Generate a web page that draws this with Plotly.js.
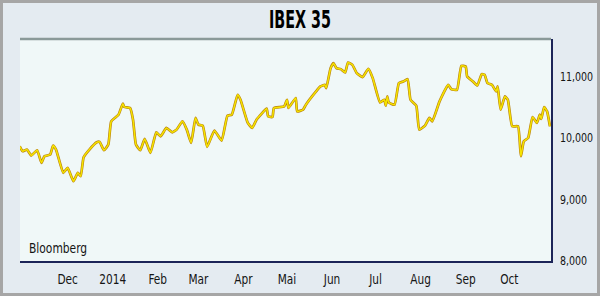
<!DOCTYPE html>
<html>
<head>
<meta charset="utf-8">
<script src="https://cdn.plot.ly/plotly-3.0.1.min.js"></script>
<style>html,body{margin:0;padding:0;background:#e4ebf1;}#chart{width:600px;height:296px;}</style>
</head>
<body>
<div id="chart"></div>
<script>
// IBEX 35 daily closes
const dates = ["2013-11-12","2013-11-14","2013-11-17","2013-11-20","2013-11-24","2013-11-27","2013-11-29","2013-12-03","2013-12-05","2013-12-07",
"2013-12-12","2013-12-15","2013-12-19","2013-12-22","2013-12-24","2013-12-26","2013-12-30","2014-01-04","2014-01-06","2014-01-09",
"2014-01-12","2014-01-14","2014-01-19","2014-01-22","2014-01-23","2014-01-27","2014-01-29","2014-01-31","2014-02-03","2014-02-06",
"2014-02-10","2014-02-14","2014-02-17","2014-02-21","2014-02-25","2014-02-28","2014-03-04","2014-03-07","2014-03-10","2014-03-13",
"2014-03-15","2014-03-18","2014-03-21","2014-03-26","2014-03-31","2014-04-04","2014-04-07","2014-04-11","2014-04-13","2014-04-18",
"2014-04-21","2014-04-24","2014-05-01","2014-05-02","2014-05-05","2014-05-06","2014-05-13","2014-05-15","2014-05-16","2014-05-21",
"2014-05-22","2014-05-26","2014-05-28","2014-06-04","2014-06-07","2014-06-10","2014-06-11","2014-06-14","2014-06-16","2014-06-18",
"2014-06-21","2014-06-24","2014-06-26","2014-06-29","2014-07-02","2014-07-06","2014-07-10","2014-07-13","2014-07-18","2014-07-21",
"2014-07-22","2014-07-23","2014-07-24","2014-07-28","2014-07-31","2014-08-03","2014-08-06","2014-08-08","2014-08-12","2014-08-14",
"2014-08-18","2014-08-21","2014-08-23","2014-08-28","2014-09-03","2014-09-05","2014-09-09","2014-09-12","2014-09-15","2014-09-16",
"2014-09-20","2014-09-23","2014-09-26","2014-09-28","2014-09-30","2014-10-03","2014-10-06","2014-10-07","2014-10-09","2014-10-12",
"2014-10-14","2014-10-17","2014-10-21","2014-10-23","2014-10-25","2014-10-28","2014-10-31","2014-11-03","2014-11-05","2014-11-06",
"2014-11-08","2014-11-10","2014-11-12"];
const values = [9866,9785,9812,9715,9801,9597,9703,9731,9877,9812,
9434,9515,9298,9434,9379,9687,9812,9930,9937,9801,
9893,10271,10379,10558,10504,10488,10298,9893,9801,9985,
9759,10092,10028,10164,10092,10136,10271,10136,9921,10326,
10217,10201,9856,10120,9958,10363,10379,10703,10622,10245,
10164,10298,10477,10352,10342,10488,10514,10622,10488,10650,
10433,10460,10541,10757,10838,10865,10812,11136,11217,11136,
11120,11065,11227,11190,11055,10990,11125,10974,10579,10622,
10525,10676,10579,10541,10893,10919,10958,10622,10525,10136,
10201,10326,10271,10595,10865,10796,10784,11173,11162,11000,
10919,10854,11039,11028,10893,10865,10757,10838,10460,10676,
10622,10190,10190,9703,9947,10002,10342,10245,10379,10310,
10504,10433,10190];

const tickDates = ["2013-12-15","2014-01-15","2014-02-15","2014-03-15","2014-04-15","2014-05-15","2014-06-15","2014-07-15","2014-08-15","2014-09-15","2014-10-15"];
const tickLabels = ["Dec","2014","Feb","Mar","Apr","Mai","Jun","Jul","Aug","Sep","Oct"];
const yTickVals = [8000, 9000, 10000, 11000];
const yTickLabels = ["8,000","9,000","10,000","11,000"];

const FONT = "'DejaVu Sans Condensed', 'Liberation Sans Narrow', sans-serif";

const traces = [
  {x: dates, y: values, type: "scatter", mode: "lines", hoverinfo: "skip",
   line: {color: "#b8800e", width: 2.7, shape: "spline", smoothing: 0.4}},
  {x: dates, y: values, type: "scatter", mode: "lines", hoverinfo: "skip",
   line: {color: "#f6e400", width: 1.5, shape: "spline", smoothing: 0.4}}
];

const L = 20, R = 49, T = 39, B = 35, W = 600, H = 296;
const pw = W - L - R, ph = H - T - B;
const px = v => (v - L) / pw;
const py = v => (H - B - v) / ph;

const layout = {
  width: W, height: H,
  margin: {l: L, r: R, t: T, b: B, pad: 0},
  paper_bgcolor: "#e4ebf1",
  plot_bgcolor: "#f0f8f8",
  showlegend: false,
  title: {text: "<b>IBEX 35</b>", x: 0.5, xanchor: "center", y: 1 - 20 / H, yanchor: "middle",
          font: {family: FONT, size: 24, color: "#000"}},
  xaxis: {type: "date", range: ["2013-11-12 05:00", "2014-11-12 17:00"],
          tickvals: tickDates, ticktext: tickLabels, ticks: "", showgrid: false, zeroline: false,
          showline: true, linecolor: "#1c2458", linewidth: 2,
          ticklabelstandoff: 5,
          tickfont: {family: FONT, size: 13.5, color: "#151515"}, fixedrange: true},
  yaxis: {side: "right", range: [8000, 11610], tickvals: yTickVals, ticktext: yTickLabels,
          ticks: "", showgrid: false, zeroline: false,
          showline: true, linecolor: "#1c2458", linewidth: 1.5,
          ticklabelstandoff: 5,
          tickfont: {family: FONT, size: 12, color: "#151515"}, fixedrange: true},
  shapes: [
    {type: "line", xref: "paper", yref: "paper", x0: 0, x1: 1, y0: 1, y1: 1,
     line: {color: "#8a9999", width: 2.5}},
    {type: "rect", xref: "paper", yref: "paper", x0: px(1.5), x1: px(W - 1.5), y0: py(1.5), y1: py(H - 1.5),
     line: {color: "#a6a6a6", width: 3}, fillcolor: "rgba(0,0,0,0)", layer: "above"}
  ],
  annotations: [
    {text: "Bloomberg", xref: "paper", yref: "paper", x: px(27), y: py(248), xanchor: "left", yanchor: "middle",
     showarrow: false, font: {family: FONT, size: 14.5, color: "#151515"}}
  ]
};

function squeeze(sel, factor, fixed, keepLeft) {
  document.querySelectorAll(sel).forEach(t => {
    const len = t.getComputedTextLength();
    if (!len) return;
    const target = fixed ? fixed : len * factor;
    t.setAttribute("lengthAdjust", "spacingAndGlyphs");
    t.setAttribute("textLength", target);
    if (keepLeft && t.getAttribute("text-anchor") === "middle") {
      const x = parseFloat(t.getAttribute("x") || "0");
      t.setAttribute("x", x - (len - target) / 2);
    }
  });
}

Plotly.newPlot("chart", traces, layout, {staticPlot: true, displayModeBar: false}).then(() => {
  squeeze(".xtick text", 0.87);
  squeeze(".ytick text", 0.88);
  squeeze(".annotation-text", 0.82, 0, true);
  squeeze(".gtitle", 1, 62);
});
</script>
</body>
</html>
